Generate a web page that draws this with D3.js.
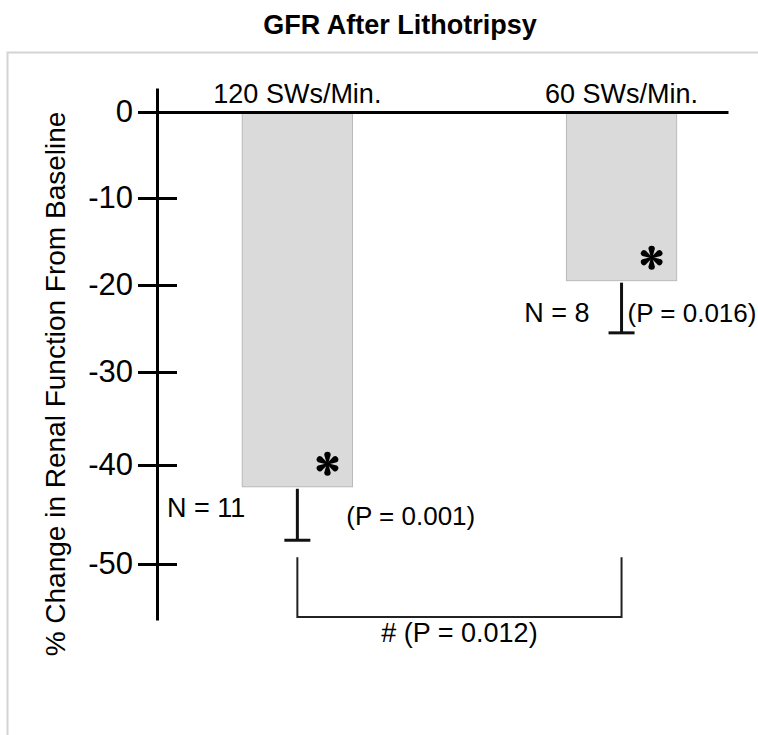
<!DOCTYPE html>
<html lang="en">
  <head>
    <meta charset="UTF-8" />
    <title>GFR After Lithotripsy</title>
    <script src="https://cdn.jsdelivr.net/npm/d3@7"></script>
    <style>
      body { margin: 0; background: #fff; }
      svg { display: block; font-family: "Liberation Sans", Arial, Helvetica, sans-serif; }
    </style>
  </head>
  <body>
    <script>
      // data
      const categories = ["120 SWs/Min.", "60 SWs/Min."];
      const means = [-42.2, -19.5];
      const errors = [5.4, 6.0];
      const nLabels = ["N = 11", "N = 8"];
      const pLabels = ["(P = 0.001)", "(P = 0.016)"];
      const compareLabel = "# (P = 0.012)";
      const yTicks = [0, -10, -20, -30, -40, -50];

      const width = 758, height = 735;
      const svg = d3.select("body").append("svg")
        .attr("width", width)
        .attr("height", height);

      // frame (left + top edge only)
      svg.append("path")
        .attr("d", "M7.5,735V52.5H758")
        .attr("fill", "none")
        .attr("stroke", "#d4d4d4")
        .attr("stroke-width", 2);

      svg.append("text")
        .attr("x", 400)
        .attr("y", 34)
        .attr("text-anchor", "middle")
        .attr("font-weight", "bold")
        .attr("font-size", 27)
        .text("GFR After Lithotripsy");

      // the original axis is hand-spaced, so the scale is piecewise
      const y = d3.scaleLinear()
        .domain([2.8].concat(yTicks, [-55.7]))
        .range([88, 112, 198, 285, 372, 465, 564, 620]);

      const x = d3.scaleBand()
        .domain(categories)
        .range([138, 728])
        .paddingInner(0.66)
        .paddingOuter(0.24)
        .align(0.67);

      const axisX = 157;

      // bars
      svg.selectAll("rect.bar")
        .data(means)
        .enter()
        .append("rect")
        .attr("class", "bar")
        .attr("x", (d, i) => x(categories[i]))
        .attr("y", y(0))
        .attr("width", x.bandwidth())
        .attr("height", d => y(d) - y(0))
        .attr("fill", "#dadada")
        .attr("stroke", "#b9b9b9")
        .attr("stroke-width", 1);

      // y axis
      const gy = svg.append("g")
        .attr("transform", `translate(${axisX},0)`)
        .call(d3.axisLeft(y).tickValues(yTicks).tickFormat(d => String(d))
          .tickSize(20).tickSizeOuter(0).tickPadding(4));
      gy.select(".domain").attr("stroke", "#000").attr("stroke-width", 3);
      gy.selectAll(".tick line").attr("x1", 20).attr("x2", -19).attr("stroke", "#000").attr("stroke-width", 3);
      gy.selectAll(".tick text")
        .attr("font-size", 31)
        .attr("font-family", "inherit")
        .attr("fill", "#000");

      // zero line with category labels on top
      const gx = svg.append("g")
        .attr("transform", `translate(0,${y(0)})`)
        .call(d3.axisTop(x).tickSizeInner(0).tickSizeOuter(0).tickPadding(9));
      gx.select(".domain").attr("stroke", "#000").attr("stroke-width", 3);
      gx.selectAll(".tick text")
        .attr("font-size", 27)
        .attr("font-family", "inherit")
        .attr("fill", "#000");

      // y title
      svg.append("text")
        .attr("transform", "translate(65,384) rotate(-90)")
        .attr("text-anchor", "middle")
        .attr("font-size", 28)
        .text("% Change in Renal Function From Baseline");

      // error bars (downward only)
      const cx = i => x(categories[i]) + x.bandwidth() / 2;
      const err = svg.append("g").attr("stroke", "#111").attr("stroke-width", 3);
      means.forEach((m, i) => {
        err.append("line")
          .attr("x1", cx(i)).attr("x2", cx(i))
          .attr("y1", y(m) + 2).attr("y2", y(m - errors[i]));
        err.append("line")
          .attr("x1", cx(i) - 13).attr("x2", cx(i) + 13)
          .attr("y1", y(m - errors[i])).attr("y2", y(m - errors[i]));
      });

      // teardrop asterisks marking significance
      const L = 12, r = 3.2;
      const petal = `M-0.7,0L${-r},${-(L - r)}A${r},${r} 0 1 1 ${r},${-(L - r)}L0.7,0Z`;
      means.forEach((m, i) => {
        const g = svg.append("g")
          .attr("transform", `translate(${x(categories[i]) + x.bandwidth() - 25},${y(m) - 23})`);
        d3.range(6).forEach(k => {
          g.append("path")
            .attr("d", petal)
            .attr("transform", `rotate(${k * 60})`)
            .attr("fill", "#000");
        });
      });

      // N and P annotations
      const place = [
        { n: [-52, 30], p: [49, 38] },
        { n: [-32, 41], p: [6, 41] }
      ];
      means.forEach((m, i) => {
        svg.append("text")
          .attr("x", cx(i) + place[i].n[0])
          .attr("y", y(m) + place[i].n[1])
          .attr("text-anchor", "end")
          .attr("font-size", 27)
          .text(nLabels[i]);
        svg.append("text")
          .attr("x", cx(i) + place[i].p[0])
          .attr("y", y(m) + place[i].p[1])
          .attr("font-size", 26)
          .text(pLabels[i]);
      });

      // comparison bracket between the two groups
      const bTop = y(means[0] - errors[0]) + 17;
      const bBot = y(-50) + 53;
      svg.append("path")
        .attr("d", `M${cx(0)},${bTop}V${bBot}H${cx(1)}V${bTop}`)
        .attr("fill", "none")
        .attr("stroke", "#222")
        .attr("stroke-width", 2);
      svg.append("text")
        .attr("x", (cx(0) + cx(1)) / 2)
        .attr("y", bBot + 25)
        .attr("text-anchor", "middle")
        .attr("font-size", 27)
        .text(compareLabel);
    </script>
  </body>
</html>
